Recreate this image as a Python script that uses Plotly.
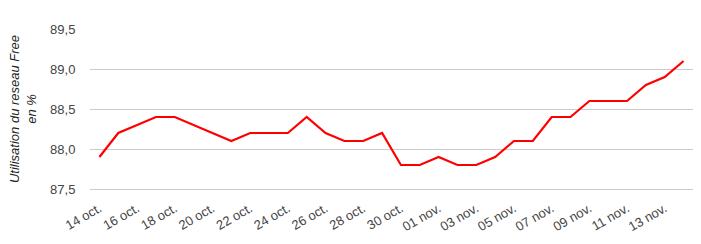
import plotly.graph_objects as go

dates = ["14 oct.", "15 oct.", "16 oct.", "17 oct.", "18 oct.", "19 oct.", "20 oct.", "21 oct.",
         "22 oct.", "23 oct.", "24 oct.", "25 oct.", "26 oct.", "27 oct.", "28 oct.", "29 oct.",
         "30 oct.", "31 oct.", "01 nov.", "02 nov.", "03 nov.", "04 nov.", "05 nov.", "06 nov.",
         "07 nov.", "08 nov.", "09 nov.", "10 nov.", "11 nov.", "12 nov.", "13 nov.", "14 nov."]
usage = [87.9, 88.2, 88.3, 88.4, 88.4, 88.3, 88.2, 88.1,
         88.2, 88.2, 88.2, 88.4, 88.2, 88.1, 88.1, 88.2,
         87.8, 87.8, 87.9, 87.8, 87.8, 87.9, 88.1, 88.1,
         88.4, 88.4, 88.6, 88.6, 88.6, 88.8, 88.9, 89.1]
tick_labels = dates[::2]
y_ticks = [87.5, 88.0, 88.5, 89.0, 89.5]

fig = go.Figure()
fig.add_trace(go.Scatter(x=dates, y=usage, mode="lines",
                         line=dict(color="#ff0000", width=2.2)))

font = dict(family="Liberation Sans, Arial, sans-serif", size=12, color="#444444")
fig.update_layout(
    width=701, height=244,
    margin=dict(l=90, r=8, t=29, b=55),
    paper_bgcolor="white", plot_bgcolor="white",
    separators=", ",
    showlegend=False,
    font=font,
    xaxis=dict(type="category", range=[-0.5, len(dates) - 0.5],
               tickmode="array", tickvals=tick_labels, ticktext=tick_labels,
               tickangle=-30, showgrid=False, zeroline=False,
               showline=True, linecolor="#cccccc", linewidth=1,
               ticks="outside", ticklen=6, tickcolor="rgba(0,0,0,0)",
               tickfont=dict(size=13, color="#444444")),
    yaxis=dict(range=[87.5, 89.5], tickvals=y_ticks, tickformat=".1f",
               showgrid=True, gridcolor="#cccccc", gridwidth=1, zeroline=False,
               ticks="outside", ticklen=11, tickcolor="rgba(0,0,0,0)",
               tickfont=dict(size=13, color="#444444"),
               title=dict(text="Utilisation du reseau Free<br>en %",
                          font=dict(size=13, color="#222222", style="italic",
                                    family="Liberation Sans, Arial, sans-serif"),
                          standoff=10)),
)

fig.write_html("out.html")
